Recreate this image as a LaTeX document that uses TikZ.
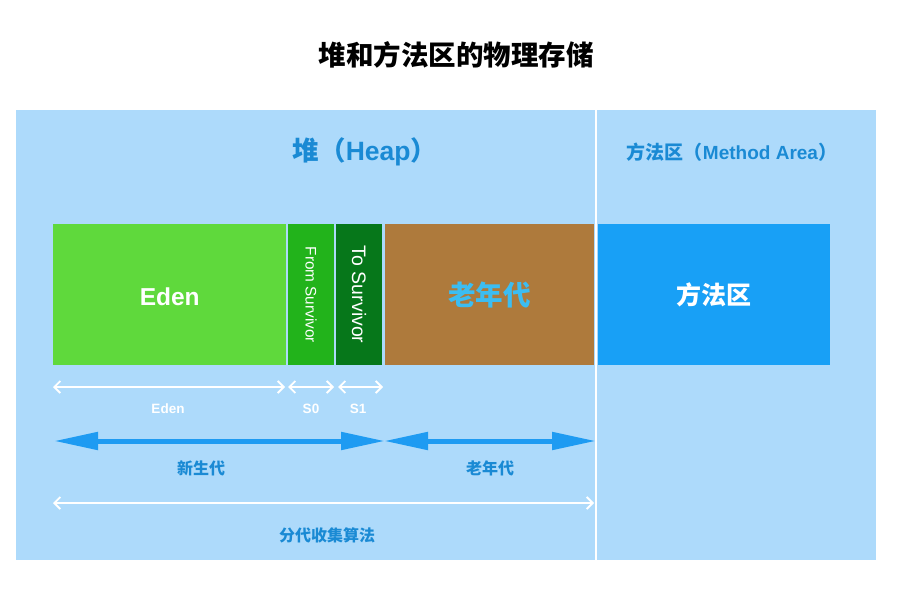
\documentclass[tikz,border=0pt]{standalone}
\usepackage{fontspec}
\setmainfont{Liberation Sans}
\newfontfamily\cjk{Noto Sans CJK SC}
\usetikzlibrary{arrows.meta}
\definecolor{bgblue}{HTML}{ADDAFB}
\definecolor{txtblue}{HTML}{1A8AD4}
\definecolor{edengreen}{HTML}{5FD93C}
\definecolor{fromgreen}{HTML}{22B31B}
\definecolor{togreen}{HTML}{06771A}
\definecolor{oldbrown}{HTML}{AE7A3C}
\definecolor{oldtxt}{HTML}{3CBDF2}
\definecolor{mablue}{HTML}{18A0F6}
\definecolor{arrblue}{HTML}{1E9BF2}
\begin{document}
\begin{tikzpicture}[x=1pt,y=-1pt,
  region/.style={draw=none,minimum height=141pt,inner sep=0pt,anchor=north west},
  whitearr/.style={white,line width=1.8pt,{Straight Barb[length=6pt,width=12pt]}-{Straight Barb[length=6pt,width=12pt]}},
  bluearr/.style={arrblue,line width=5pt,{Triangle[length=44pt,width=17pt]}-{Triangle[length=44pt,width=17pt]}},
  smalllbl/.style={white,font=\bfseries\fontsize{13.5}{13.5}\selectfont},
  genlbl/.style={txtblue,font=\cjk\bfseries\fontsize{16}{16}\selectfont}]
\useasboundingbox (0,0) rectangle (901,601);
\fill[white] (0,0) rectangle (901,601);
% background
\fill[bgblue] (16,110) rectangle (876,560);
\draw[white,line width=2pt] (596,110) -- (596,560);
% title
\node (title) at (456,55) {\cjk\bfseries\fontsize{27.5}{27.5}\selectfont 堆和方法区的物理存储};
\node[txtblue] (heap) at (365,152) {\cjk\bfseries\fontsize{26.5}{26.5}\selectfont 堆（\fontspec{Liberation Sans}\bfseries Heap\cjk\bfseries）};
\node[txtblue] (mahead) at (732,152) {\cjk\bfseries\fontsize{19}{19}\selectfont 方法区（\fontspec{Liberation Sans}\bfseries Method Area\cjk\bfseries）};
% boxes
\node[region,fill=edengreen,minimum width=233pt] (eden) at (53,224) {};
\node[white,font=\bfseries\fontsize{24.5}{24.5}\selectfont] at ([yshift=-2pt]eden.center) {Eden};
\node[region,fill=fromgreen,minimum width=46pt] (from) at (288,224) {};
\node[white,rotate=-90,font=\fontsize{15.3}{15.3}\selectfont] at (from.center) {From Survivor};
\node[region,fill=togreen,minimum width=46pt] (to) at (336,224) {};
\node[white,rotate=-90,font=\fontsize{19.5}{19.5}\selectfont] at (to.center) {To Survivor};
\node[region,fill=oldbrown,minimum width=209pt] (old) at (385,224) {};
\node[oldtxt,font=\cjk\bfseries\fontsize{27.5}{27.5}\selectfont] at (old.center) {老年代};
\node[region,fill=mablue,minimum width=232pt] (ma) at (598,224) {};
\node[white,font=\cjk\bfseries\fontsize{25}{25}\selectfont] at (ma.center) {方法区};
% white size arrows
\coordinate (e1) at (53,387); \coordinate (e2) at (285,387);
\coordinate (s01) at (288,387); \coordinate (s02) at (334,387);
\coordinate (s11) at (338,387); \coordinate (s12) at (383,387);
\draw[whitearr] (e1) -- (e2);
\draw[whitearr] (s01) -- (s02);
\draw[whitearr] (s11) -- (s12);
\node[smalllbl] (edenlbl) at (168,409) {Eden};
\node[smalllbl] (s0lbl) at (311,409) {S0};
\node[smalllbl] (s1lbl) at (358,409) {S1};
% blue generation arrows
\coordinate (y1) at (54,441); \coordinate (y2) at (385,441);
\coordinate (o1) at (384,441); \coordinate (o2) at (596,441);
\draw[bluearr] (y1) -- (y2);
\draw[bluearr] (o1) -- (o2);
\node[genlbl] (younglbl) at (201,468) {新生代};
\node[genlbl] (oldlbl) at (490,468) {老年代};
% total arrow
\coordinate (t1) at (53,503); \coordinate (t2) at (594,503);
\draw[whitearr] (t1) -- (t2);
\node[genlbl] (alglbl) at (327,535) {分代收集算法};
\end{tikzpicture}
\end{document}
